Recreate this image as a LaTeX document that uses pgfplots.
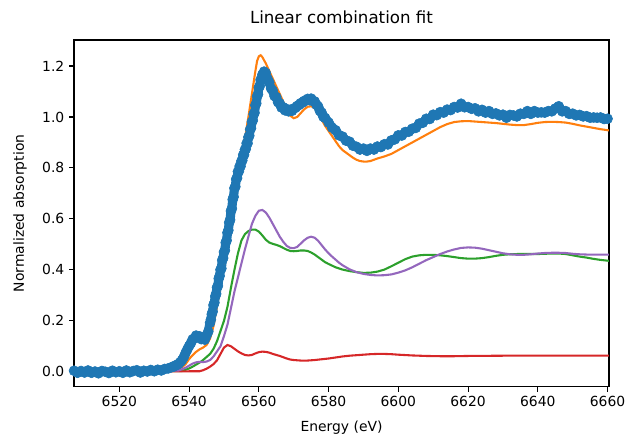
\documentclass[border=0pt]{standalone}
\usepackage{fontspec}
\setmainfont{DejaVu Sans}
\usepackage{pgfplots}
\pgfplotsset{compat=1.18}
\definecolor{c0}{HTML}{1F77B4}
\definecolor{c1}{HTML}{FF7F0E}
\definecolor{c2}{HTML}{2CA02C}
\definecolor{c3}{HTML}{D62728}
\definecolor{c4}{HTML}{9467BD}
\pgfplotstableread{
x y
6507 0.004
6508 -0.004
6509 0.003
6510 -0.003
6511 0.005
6512 -0.004
6513 0.001
6514 -0.006
6515 0.003
6516 0.000
6517 -0.005
6518 0.004
6519 -0.002
6520 0.002
6521 -0.004
6522 0.005
6523 -0.002
6524 0.003
6525 0.006
6526 -0.003
6527 0.004
6528 0.001
6529 0.007
6530 0.002
6531 0.008
6532 0.005
6533 0.011
6534 0.013
6535 0.018
6535.5 0.020
6536 0.024
6536.5 0.027
6537 0.031
6537.5 0.038
6538 0.046
6538.5 0.058
6539 0.074
6539.5 0.088
6540 0.101
6540.5 0.112
6541 0.127
6541.5 0.131
6542 0.142
6542.5 0.137
6543 0.139
6543.5 0.128
6544 0.131
6544.5 0.126
6545 0.142
6545.5 0.158
6546.00 0.192
6546.25 0.205
6546.50 0.226
6546.75 0.236
6547.00 0.262
6547.25 0.271
6547.50 0.296
6547.75 0.306
6548.00 0.331
6548.25 0.337
6548.50 0.366
6548.75 0.376
6549.00 0.401
6549.25 0.405
6549.50 0.438
6549.75 0.446
6550.00 0.470
6550.25 0.476
6550.50 0.507
6550.75 0.515
6551.00 0.546
6551.25 0.555
6551.50 0.586
6551.75 0.596
6552.00 0.631
6552.25 0.640
6552.50 0.676
6552.75 0.686
6553.00 0.721
6553.25 0.726
6553.50 0.756
6553.75 0.760
6554.00 0.786
6554.25 0.786
6554.50 0.807
6554.75 0.806
6555.00 0.827
6555.25 0.829
6555.50 0.851
6555.75 0.851
6556.00 0.872
6556.25 0.874
6556.50 0.897
6556.75 0.896
6557.00 0.921
6557.25 0.926
6557.50 0.951
6557.75 0.956
6558.00 0.981
6558.25 0.986
6558.50 1.011
6558.75 1.016
6559.00 1.046
6559.25 1.053
6559.50 1.081
6559.75 1.089
6560.00 1.116
6560.25 1.121
6560.50 1.146
6560.75 1.146
6561.00 1.166
6561.25 1.163
6561.50 1.178
6561.75 1.167
6562.00 1.172
6562.5 1.150
6563 1.136
6563.5 1.112
6564 1.103
6564.5 1.082
6565 1.078
6565.5 1.058
6566 1.053
6566.5 1.037
6567 1.038
6567.5 1.026
6568 1.031
6568.5 1.022
6569 1.028
6569.5 1.024
6570 1.033
6570.5 1.036
6571 1.043
6571.5 1.047
6572 1.054
6572.5 1.056
6573 1.063
6573.5 1.064
6574 1.071
6574.5 1.066
6575 1.072
6575.5 1.062
6576 1.061
6576.5 1.048
6577 1.041
6577.5 1.024
6578 1.017
6578.5 1.001
6579 0.996
6580 0.978
6581 0.958
6582 0.948
6583 0.928
6584 0.923
6585 0.907
6586 0.903
6587 0.887
6588 0.883
6589 0.872
6590 0.876
6591 0.867
6592 0.876
6593 0.872
6594 0.884
6595 0.882
6596 0.893
6597 0.892
6598 0.908
6599 0.912
6600 0.928
6601 0.927
6602 0.941
6603 0.942
6604 0.954
6605 0.957
6606 0.974
6607 0.977
6608 0.993
6609 0.992
6610 1.009
6611 1.007
6612 1.019
6613 1.017
6614 1.029
6615 1.027
6616 1.039
6617 1.037
6618 1.052
6619 1.038
6620 1.039
6621 1.032
6622 1.034
6623 1.022
6624 1.028
6625 1.017
6626 1.023
6627 1.012
6628 1.014
6629 1.006
6630 1.009
6631 0.997
6632 1.008
6633 1.006
6634 1.002
6635 1.013
6636 1.012
6637 1.023
6638 1.012
6639 1.023
6640 1.017
6641 1.018
6642 1.017
6643 1.023
6644 1.022
6645 1.033
6646 1.042
6647 1.022
6648 1.023
6649 1.012
6650 1.013
6651 1.006
6652 1.008
6653 1.002
6654 1.003
6655 0.997
6656 0.998
6657 0.997
6658 0.998
6659 0.992
6660 0.993
6661 0.995
}\measured
\begin{document}
\begin{tikzpicture}
\useasboundingbox (-53.3pt,-37.7pt) rectangle (398pt,278.4pt);
\begin{axis}[
  at={(0pt,0pt)}, anchor=south west,
  scale only axis, width=385pt, height=249.6pt,
  xmin=6507, xmax=6660.4, ymin=-0.059, ymax=1.302,
  xtick={6520,6540,...,6660}, ytick={0,0.2,0.4,0.6,0.8,1.0,1.2},
  xticklabel style={/pgf/number format/1000 sep={}},
  yticklabel style={/pgf/number format/.cd, fixed, fixed zerofill, precision=1},
  /pgf/number format/assume math mode=true,
  tick align=outside, xtick pos=bottom, ytick pos=left,
  major tick length=3.5pt,
  tick style={line width=0.8pt, black},
  axis line style={line width=0.8pt, black},
  ticklabel style={font=\fontsize{10}{12}\selectfont},
  title={Linear combination fit},
  title style={font=\fontsize{12}{14}\selectfont, at={(axis description cs:0.5,1)}, anchor=base, yshift=6pt},
  xlabel={Energy (eV)},
  xlabel style={font=\fontsize{10}{12}\selectfont, at={(axis description cs:0.5,0)}, anchor=center, yshift=-29.7pt},
  ylabel={Normalized absorption},
  ylabel style={font=\fontsize{10}{12}\selectfont, at={(axis description cs:-0.101,0.5)}, anchor=center, rotate=0},
  clip=true,
]
% measured data: a band under the markers, then the markers
\addplot[c0, line width=6.6pt, line join=round, line cap=round, forget plot] table {\measured};
\addplot[only marks, mark=*, mark size=3.6pt, color=c0, mark options={draw=none, fill=c0}] table {\measured};
% fit
\addplot[c1, line width=1.5pt] table {
x y
6507 0.003
6535 0.005
6536 0.008
6537 0.012
6538 0.018
6539 0.030
6540 0.050
6541 0.065
6542 0.078
6543 0.088
6544 0.095
6545 0.105
6546 0.130
6547 0.180
6548 0.260
6549 0.340
6550 0.430
6551 0.520
6552 0.600
6553 0.690
6554 0.770
6555 0.845
6556 0.915
6557 1.000
6558 1.090
6559 1.180
6559.5 1.220
6560 1.238
6560.5 1.242
6561 1.235
6562 1.210
6563 1.180
6564 1.150
6565 1.120
6566 1.090
6567 1.060
6568 1.030
6569 1.005
6570 0.995
6571 1.000
6572 1.015
6573 1.030
6574 1.040
6575 1.042
6576 1.035
6577 1.015
6578 0.990
6579 0.965
6580 0.945
6581 0.925
6582 0.905
6583 0.885
6584 0.870
6585 0.860
6586 0.850
6587 0.840
6588 0.832
6589 0.827
6590 0.825
6591 0.825
6592 0.827
6593 0.832
6594 0.837
6596 0.845
6598 0.855
6600 0.870
6602 0.885
6604 0.900
6606 0.915
6608 0.930
6610 0.945
6612 0.960
6614 0.972
6616 0.980
6618 0.983
6620 0.984
6622 0.982
6624 0.980
6626 0.978
6628 0.976
6630 0.973
6632 0.970
6634 0.968
6636 0.968
6638 0.972
6640 0.977
6642 0.980
6644 0.981
6646 0.980
6648 0.978
6650 0.973
6652 0.967
6654 0.962
6656 0.957
6658 0.952
6660 0.948
6661 0.946
};
% component 1
\addplot[c2, line width=1.5pt] table {
x y
6507 0.000
6538 0.003
6539 0.008
6540 0.013
6541 0.020
6542 0.028
6543 0.036
6544 0.046
6545 0.058
6546 0.070
6547 0.090
6548 0.120
6549 0.160
6550 0.200
6551 0.255
6552 0.330
6553 0.400
6554 0.465
6555 0.515
6556 0.540
6557 0.552
6558 0.558
6559 0.558
6560 0.550
6561 0.535
6562 0.518
6563 0.507
6564 0.502
6565 0.498
6566 0.493
6567 0.486
6568 0.479
6569 0.474
6570 0.473
6571 0.474
6572 0.476
6573 0.476
6574 0.474
6575 0.468
6576 0.460
6577 0.450
6578 0.440
6579 0.430
6580 0.423
6582 0.410
6584 0.401
6586 0.395
6588 0.391
6590 0.388
6592 0.389
6594 0.393
6596 0.401
6598 0.414
6600 0.428
6602 0.442
6604 0.452
6606 0.457
6608 0.459
6610 0.459
6612 0.457
6614 0.454
6616 0.450
6618 0.446
6620 0.444
6622 0.444
6624 0.446
6626 0.450
6628 0.455
6630 0.459
6632 0.461
6634 0.462
6636 0.462
6638 0.462
6640 0.462
6642 0.463
6644 0.464
6646 0.464
6648 0.462
6650 0.457
6652 0.452
6654 0.448
6656 0.443
6658 0.439
6660 0.436
6661 0.434
};
% component 2
\addplot[c3, line width=1.5pt] table {
x y
6507 0.000
6543 0.002
6544 0.006
6545 0.012
6546 0.020
6547 0.030
6548 0.045
6549 0.070
6550 0.095
6551 0.105
6552 0.100
6553 0.090
6554 0.080
6555 0.072
6556 0.066
6557 0.064
6558 0.066
6559 0.072
6560 0.077
6561 0.079
6562 0.078
6563 0.075
6564 0.070
6565 0.066
6566 0.062
6567 0.057
6568 0.052
6569 0.048
6570 0.046
6572 0.044
6574 0.044
6576 0.046
6578 0.049
6580 0.052
6582 0.056
6584 0.060
6586 0.063
6588 0.065
6590 0.067
6592 0.069
6594 0.070
6596 0.070
6598 0.069
6600 0.067
6604 0.064
6608 0.062
6612 0.061
6616 0.061
6620 0.062
6630 0.063
6640 0.063
6650 0.063
6661 0.063
};
% component 3
\addplot[c4, line width=1.5pt] table {
x y
6507 0.000
6537 0.005
6538 0.010
6539 0.016
6540 0.024
6541 0.032
6542 0.037
6543 0.039
6544 0.038
6545 0.040
6546 0.046
6547 0.060
6548 0.080
6549 0.100
6550 0.140
6551 0.185
6552 0.250
6553 0.315
6554 0.370
6555 0.425
6556 0.480
6557 0.530
6558 0.580
6559 0.612
6560 0.632
6561 0.635
6562 0.625
6563 0.605
6564 0.580
6565 0.555
6566 0.530
6567 0.510
6568 0.494
6569 0.486
6570 0.485
6571 0.490
6572 0.503
6573 0.516
6574 0.526
6575 0.530
6576 0.526
6577 0.514
6578 0.497
6579 0.480
6580 0.465
6581 0.452
6582 0.440
6583 0.428
6584 0.418
6586 0.402
6588 0.391
6590 0.384
6592 0.380
6594 0.378
6596 0.379
6598 0.382
6600 0.389
6602 0.398
6604 0.410
6606 0.424
6608 0.438
6610 0.450
6612 0.462
6614 0.472
6616 0.480
6618 0.486
6620 0.488
6622 0.487
6624 0.483
6626 0.477
6628 0.471
6630 0.465
6632 0.461
6634 0.459
6636 0.459
6638 0.461
6640 0.464
6642 0.466
6644 0.467
6646 0.467
6648 0.466
6650 0.463
6652 0.461
6654 0.460
6656 0.460
6658 0.460
6660 0.460
6661 0.460
};
\end{axis}
\end{tikzpicture}
\end{document}
